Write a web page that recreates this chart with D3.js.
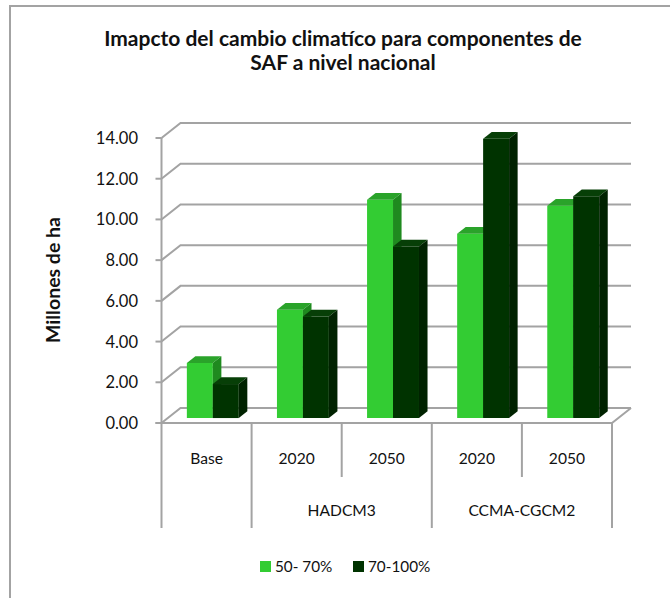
<!DOCTYPE html>
<html>
<head>
<meta charset="utf-8">
<script src="https://cdn.jsdelivr.net/npm/d3@7"></script>
<style>
  html, body { margin: 0; padding: 0; background: #fff; }
  svg { display: block; font-family: Lato, "Open Sans", sans-serif; }
</style>
</head>
<body>
<svg id="chart" width="670" height="598"></svg>
<script>
// Area (millions of ha) per scenario and suitability class
const categories = ["Base", "HADCM3 2020", "HADCM3 2050", "CCMA 2020", "CCMA 2050"];
const yearLabels = ["Base", "2020", "2050", "2020", "2050"];
const groups = [
  { name: "", from: 0, to: 0 },
  { name: "HADCM3", from: 1, to: 2 },
  { name: "CCMA-CGCM2", from: 3, to: 4 }
];
const seriesNames = ["50- 70%", "70-100%"];
const seriesA = [2.70, 5.32, 10.72, 9.05, 10.43];   // 50- 70%
const seriesB = [1.67, 4.99, 8.43, 13.72, 10.89];   // 70-100%
const yTicks = [0, 2, 4, 6, 8, 10, 12, 14];

const title = ["Imapcto del cambio climatíco para componentes de", "SAF a nivel nacional"];
const yTitle = "Millones de ha";

const svg = d3.select("#chart");

// outer chart frame
svg.append("rect")
  .attr("x", 10).attr("y", 6).attr("width", 700).attr("height", 650)
  .attr("fill", "none").attr("stroke", "#a3a3a3").attr("stroke-width", 2);

// plot geometry (front plane) and depth projection
const x0 = d3.scaleBand().domain(categories).range([161.5, 612]).paddingInner(0).paddingOuter(0);
const y = d3.scaleLinear().domain([0, 14]).range([423, 138]);
const DX = 19, DY = 15;               // full depth offset of the back wall
const proj = (px, py, z) => [px + z * DX, py - z * DY];

const gridColor = "#a3a3a3";
const grid = svg.append("g").attr("stroke", gridColor).attr("stroke-width", 2).attr("fill", "none");

// back wall gridlines with left wall diagonals
yTicks.forEach(v => {
  const yf = y(v);
  const back = proj(x0.range()[0], yf, 1);
  const backR = proj(x0.range()[1], yf, 1);
  grid.append("path").attr("d", d3.line()([[x0.range()[0], yf], back, backR]));
  grid.append("line").attr("x1", x0.range()[0] - 6).attr("x2", x0.range()[0]).attr("y1", yf).attr("y2", yf);
});

// front floor edge and right floor diagonal
const y0 = y(0);
grid.append("path").attr("d", d3.line()([[x0.range()[0] - 6, y0], [x0.range()[1], y0], proj(x0.range()[1], y0, 1)]));
// value axis line
grid.append("line").attr("x1", x0.range()[0]).attr("x2", x0.range()[0]).attr("y1", y(14)).attr("y2", y0);

// category table dividers
const boundaries = d3.range(categories.length + 1).map(i => i < categories.length ? x0(categories[i]) : x0.range()[1]);
const groupEdges = new Set([0, 1, 3, 5]);
boundaries.forEach((bx, i) => {
  grid.append("line")
    .attr("x1", bx).attr("x2", bx)
    .attr("y1", y0).attr("y2", groupEdges.has(i) ? 528 : 477);
});

// value tick labels
svg.append("g").selectAll("text").data(yTicks).join("text")
  .attr("x", 138).attr("y", d => y(d) + 6)
  .attr("text-anchor", "end").attr("font-size", 16.5).attr("fill", "#111")
  .text(d => d3.format(".2f")(d));

// value axis title
svg.append("text")
  .attr("transform", "translate(60,280) rotate(-90)")
  .attr("text-anchor", "middle").attr("font-size", 19.5).attr("font-weight", "bold").attr("fill", "#111")
  .text(yTitle);

// category labels
svg.append("g").selectAll("text").data(categories).join("text")
  .attr("x", d => x0(d) + x0.bandwidth() / 2).attr("y", 464)
  .attr("text-anchor", "middle").attr("font-size", 15.6).attr("fill", "#111")
  .text((d, i) => yearLabels[i]);
svg.append("g").selectAll("text").data(groups.filter(g => g.name)).join("text")
  .attr("x", g => (x0(categories[g.from]) + x0(categories[g.to]) + x0.bandwidth()) / 2).attr("y", 516)
  .attr("text-anchor", "middle").attr("font-size", 15.6).attr("fill", "#111")
  .text(g => g.name);

// 3D bars
const x1 = d3.scaleBand().domain(seriesNames).range([0, x0.bandwidth()]).paddingInner(0).paddingOuter(0.735);
const Z0 = 0.33, Z1 = 0.78;          // front and back depth of the bars
const palette = {
  "50- 70%": { front: "#33cc33", top: "#2aa32a", side: "#1f8a1f" },
  "70-100%": { front: "#003300", top: "#073f07", side: "#002200" }
};
const barData = [];
categories.forEach((c, i) => {
  barData.push({ cat: c, s: seriesNames[0], v: seriesA[i] });
  barData.push({ cat: c, s: seriesNames[1], v: seriesB[i] });
});
const bars = svg.append("g");
barData.forEach(d => {
  const xl = x0(d.cat) + x1(d.s), xr = xl + x1.bandwidth();
  const yt = y(d.v), yb = y(0);
  const col = palette[d.s];
  const g = bars.append("g");
  const fl = d3.line();
  // front face
  g.append("path").attr("fill", col.front)
    .attr("d", fl([proj(xl, yt, Z0), proj(xr, yt, Z0), proj(xr, yb, Z0), proj(xl, yb, Z0)]) + "Z");
  // top face
  g.append("path").attr("fill", col.top)
    .attr("d", fl([proj(xl, yt, Z0), proj(xl, yt, Z1), proj(xr, yt, Z1), proj(xr, yt, Z0)]) + "Z");
  // side face
  g.append("path").attr("fill", col.side)
    .attr("d", fl([proj(xr, yt, Z0), proj(xr, yt, Z1), proj(xr, yb, Z1), proj(xr, yb, Z0)]) + "Z");
});

// chart title
svg.append("g").selectAll("text").data(title).join("text")
  .attr("x", 343).attr("y", (d, i) => 46 + i * 23.5)
  .attr("text-anchor", "middle").attr("font-size", 21).attr("font-weight", "bold").attr("fill", "#111")
  .text(d => d);

// legend
const legend = svg.append("g");
const legendX = [260, 353];
seriesNames.forEach((s, i) => {
  legend.append("rect").attr("x", legendX[i]).attr("y", 561).attr("width", 11).attr("height", 11)
    .attr("fill", palette[s].front);
  legend.append("text").attr("x", legendX[i] + 15).attr("y", 572)
    .attr("font-size", 15.3).attr("fill", "#111").text(s);
});
</script>
</body>
</html>
